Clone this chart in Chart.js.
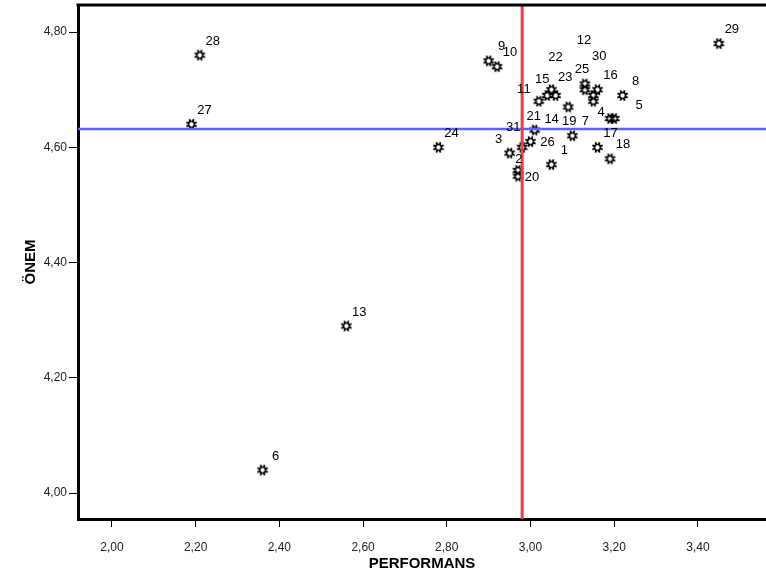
<!DOCTYPE html>
<html>
<head>
<meta charset="utf-8">
<script src="https://cdn.jsdelivr.net/npm/chart.js@4"></script>
<style>
  html, body { margin: 0; padding: 0; background: #fff; overflow: hidden; }
  #wrap { width: 766px; height: 579px; }
</style>
</head>
<body>
<div id="wrap"><canvas id="chart"></canvas></div>
<script>
// data
const ids = [1, 2, 3, 4, 5, 6, 7, 8, 9, 10, 11, 12, 13, 14, 15, 16,
             17, 18, 19, 20, 21, 22, 23, 24, 25, 26, 27, 28, 29, 30, 31]
const performans = [3.05, 2.97, 2.95, 3.19, 3.20, 2.36, 3.10, 3.22, 2.90, 2.92, 3.02, 3.13, 2.56, 3.06, 3.04, 3.16,
                    3.16, 3.19, 3.15, 2.97, 3.01, 3.05, 3.09, 2.78, 3.13, 3.00, 2.19, 2.21, 3.45, 3.15, 2.98]
const onem = [4.57, 4.56, 4.59, 4.65, 4.65, 4.04, 4.62, 4.69, 4.75, 4.74, 4.68, 4.71, 4.29, 4.69, 4.69, 4.70,
              4.60, 4.58, 4.68, 4.55, 4.63, 4.70, 4.67, 4.60, 4.70, 4.61, 4.64, 4.76, 4.78, 4.69, 4.60]
const meanPerformans = 2.98
const meanOnem = 4.632
const xTicks = [2.0, 2.2, 2.4, 2.6, 2.8, 3.0, 3.2, 3.4]
const yTicks = [4.0, 4.2, 4.4, 4.6, 4.8]

const xMin = 1.919, xMax = 3.5626
const yMin = 3.955, yMax = 4.847

const FONT = "'Liberation Sans', Arial, sans-serif"

// where a label sits next to its point (SPSS moves crowded ones around)
const labelNudge = {
    2: [1, -11], 3: [-11, -14], 4: [-9, -6], 5: [25, -13], 11: [-15, -12], 12: [-1, -44],
    14: [-4, 24], 15: [-5, -16], 19: [-24, 20], 20: [14, 1], 21: [-1, -14], 22: [4, -32],
    23: [-3, -30], 25: [-3, -20], 26: [17, 1], 30: [6, -39], 31: [-9, -20]
}

const makeMarker = () => {
    const c = document.createElement('canvas')
    c.width = 13
    c.height = 13
    const g = c.getContext('2d')
    g.translate(6.5, 6.5)
    g.strokeStyle = '#000'
    g.lineWidth = 1.8
    for (let i = 0; i < 8; i++) {
        const a = i * Math.PI / 4 + Math.PI / 8
        g.beginPath()
        g.moveTo(Math.cos(a) * 2.5, Math.sin(a) * 2.5)
        g.lineTo(Math.cos(a) * 5.6, Math.sin(a) * 5.6)
        g.stroke()
    }
    g.beginPath()
    g.lineWidth = 1.6
    g.arc(0, 0, 3, 0, Math.PI * 2)
    g.stroke()
    return c
}

const fmt = (v) => Number(v).toFixed(2).replace('.', ',')

const frame = {
    id: 'frame',
    afterDraw(chart) {
        const { ctx, chartArea: a } = chart
        ctx.save()
        ctx.strokeStyle = '#000'
        ctx.lineWidth = 3
        ctx.beginPath()
        ctx.moveTo(a.left - 1.5, a.top)
        ctx.lineTo(a.right + 2, a.top)
        ctx.stroke()
        ctx.restore()
    }
}

const pointLabels = {
    id: 'pointLabels',
    afterDatasetsDraw(chart) {
        const { ctx } = chart
        const meta = chart.getDatasetMeta(2)
        ctx.save()
        ctx.font = '13px ' + FONT
        ctx.fillStyle = '#000'
        ctx.textAlign = 'center'
        ctx.textBaseline = 'middle'
        meta.data.forEach((pt, i) => {
            const off = labelNudge[ids[i]] || [13, -14]
            ctx.fillText(String(ids[i]), pt.x + off[0], pt.y + off[1])
        })
        ctx.restore()
    }
}

window.addEventListener('load', () => {
    const points = ids.map((id, i) => ({ x: performans[i], y: onem[i] }))

    new Chart(document.getElementById('chart'), {
        type: 'scatter',
        data: {
            datasets: [
                {
                    type: 'line',
                    data: [{ x: meanPerformans, y: yMin }, { x: meanPerformans, y: yMax }],
                    borderColor: 'rgb(238, 62, 62)',
                    borderWidth: 3,
                    pointRadius: 0,
                    order: 0
                },
                {
                    type: 'line',
                    data: [{ x: xMin, y: meanOnem }, { x: xMax, y: meanOnem }],
                    borderColor: 'rgb(92, 102, 245)',
                    borderWidth: 2.5,
                    pointRadius: 0,
                    order: 0
                },
                {
                    data: points,
                    pointStyle: makeMarker(),
                    pointRadius: 6,
                    order: 1
                }
            ]
        },
        options: {
            responsive: true,
            maintainAspectRatio: false,
            animation: false,
            layout: { autoPadding: false, padding: { top: 5, right: 0, bottom: 0, left: 0 } },
            plugins: {
                legend: { display: false },
                tooltip: { enabled: false }
            },
            scales: {
                x: {
                    type: 'linear',
                    min: xMin,
                    max: xMax,
                    afterBuildTicks: (s) => { s.ticks = xTicks.map(v => ({ value: v })) },
                    afterFit: (s) => { s.height = 60; s.paddingLeft = 0; s.paddingRight = 0 },
                    grid: { drawOnChartArea: false, drawTicks: true, tickLength: 8, color: '#000', lineWidth: 1 },
                    border: { display: true, color: '#000', width: 3 },
                    ticks: {
                        callback: (v) => fmt(v),
                        color: '#222',
                        padding: 13,
                        maxRotation: 0,
                        autoSkip: false,
                        font: { family: FONT, size: 12 }
                    },
                    title: {
                        display: true,
                        text: 'PERFORMANS',
                        color: '#000',
                        padding: { top: 0, bottom: 6 },
                        font: { family: FONT, size: 15, weight: 'bold' }
                    }
                },
                y: {
                    type: 'linear',
                    min: yMin,
                    max: yMax,
                    afterBuildTicks: (s) => { s.ticks = yTicks.map(v => ({ value: v })) },
                    afterFit: (s) => { s.width = 78; s.paddingTop = 0; s.paddingBottom = 0 },
                    grid: { drawOnChartArea: false, drawTicks: true, tickLength: 9, color: '#000', lineWidth: 1 },
                    border: { display: true, color: '#000', width: 3 },
                    ticks: {
                        callback: (v) => fmt(v),
                        color: '#222',
                        padding: 2,
                        autoSkip: false,
                        font: { family: FONT, size: 12 }
                    },
                    title: {
                        display: true,
                        text: 'ÖNEM',
                        color: '#000',
                        padding: { top: 22, bottom: 0 },
                        font: { family: FONT, size: 15, weight: 'bold' }
                    }
                }
            }
        },
        plugins: [frame, pointLabels]
    })
})
</script>
</body>
</html>
